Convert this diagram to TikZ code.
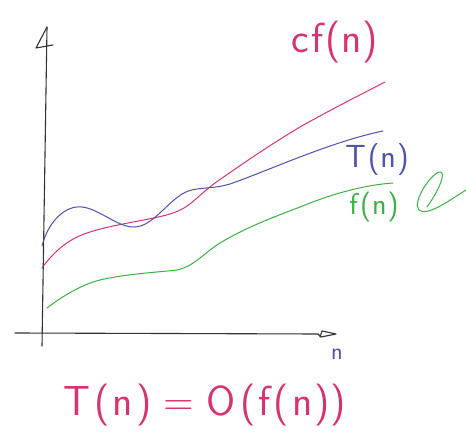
\documentclass[tikz,border=0pt]{standalone}
\usepackage{fontspec}
\definecolor{cmag}{RGB}{214,52,110}
\definecolor{cblue}{RGB}{78,82,170}
\definecolor{cgreen}{RGB}{60,176,70}
\begin{document}
\begin{tikzpicture}[x=1pt,y=-1pt,
  curve/.style={line width=1pt,line cap=round,line join=round},
  axisline/.style={line width=1.1pt,black!80,line cap=round,line join=round},
  hand/.style={inner sep=0pt,font=\sffamily}]
\useasboundingbox (0,0) rectangle (466,433);
\fill[white] (0,0) rectangle (466,433);
% axes
\coordinate (yb) at (42,346);
\coordinate (yt) at (47,27);
\coordinate (xl) at (15,333);
\coordinate (xr) at (318,334);
\draw[axisline] (yb) -- (yt);
\draw[axisline] (yt) -- (36,48) -- (53,45);
\draw[axisline] (xl) -- (xr);
\draw[axisline] (xr) -- (321,337) -- (336,334) -- (322,331) -- (320,337);
% cf(n)
\draw[curve,cmag] (42,268) .. controls (55,250) and (70,238) .. (90,232)
  .. controls (115,224) and (150,220) .. (170,214)
  .. controls (190,208) and (195,198) .. (215,183)
  .. controls (245,162) and (270,145) .. (300,127)
  .. controls (330,110) and (360,95) .. (385,82);
% T(n)
\draw[curve,cblue] (42,246) .. controls (48,222) and (65,205) .. (82,207)
  .. controls (100,209) and (118,228) .. (135,227)
  .. controls (152,226) and (165,205) .. (182,194)
  .. controls (195,186) and (210,190) .. (230,184)
  .. controls (270,170) and (330,142) .. (383,131);
% f(n)
\draw[curve,cgreen] (47,308) .. controls (60,298) and (80,285) .. (100,280)
  .. controls (125,274) and (160,272) .. (177,270)
  .. controls (195,266) and (205,252) .. (220,243)
  .. controls (250,225) and (280,215) .. (305,205)
  .. controls (335,193) and (365,185) .. (393,183);
% labels
\node[hand,text=cmag,font=\sffamily\fontsize{42}{42}\selectfont] (lc) at (335,42) {c\kern2pt f\kern2pt(\kern1pt n\kern1pt)};
\node[hand,text=cblue,font=\sffamily\fontsize{32}{32}\selectfont] (lt) at (377,160) {T\kern2pt(\kern1pt n\kern1pt)};
\node[hand,text=cgreen,font=\sffamily\fontsize{30}{30}\selectfont] (lf) at (374,207) {f\kern2pt(\kern1pt n\kern1pt)};
\draw[curve,cgreen] (427,207) .. controls (438,192) and (448,170) .. (439,172)
  .. controls (430,175) and (412,202) .. (419,210)
  .. controls (427,217) and (450,200) .. (466,190);
\node[hand,text=cblue,font=\sffamily\fontsize{24}{24}\selectfont] (ln) at (337,354) {n};
\node[hand,text=cmag,font=\sffamily\fontsize{42}{42}\selectfont] (eq) at (205,405) {T\kern4pt(\kern3pt n\kern3pt)\kern12pt=\kern12pt O\kern5pt(\kern3pt f\kern3pt(\kern3pt n\kern2pt)\kern1pt)};
\end{tikzpicture}
\end{document}
